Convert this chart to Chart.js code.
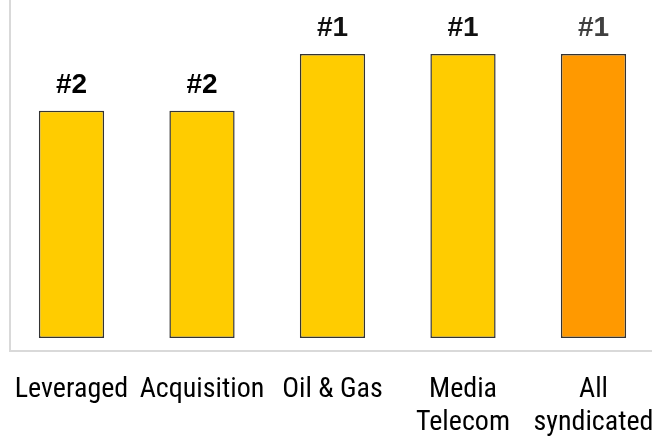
<!DOCTYPE html>
<html>
<head>
<meta charset="utf-8">
<script src="https://cdn.jsdelivr.net/npm/chart.js@4"></script>
<style>
  html, body { margin: 0; padding: 0; background: #fff; }
  #wrap { width: 652px; height: 439px; }
</style>
</head>
<body>
<div id="wrap"><canvas id="barChart"></canvas></div>
<script>
const categories = ['Leveraged', 'Acquisition', 'Oil & Gas', ['Media', 'Telecom'], ['All', 'syndicated']];
const ranks = [2, 2, 1, 1, 1];
const rankLabels = ['#2', '#2', '#1', '#1', '#1'];
const barColors = ['#FFCC00', '#FFCC00', '#FFCC00', '#FFCC00', '#FF9900'];
const labelColors = ['#000000', '#000000', '#111111', '#111111', '#404040'];

// bar height: rank 1 is the tallest bar
const scores = ranks.map((r) => 6 - r);

const FONT = '"Liberation Sans Narrow", "Arial Narrow", "Roboto Condensed", "Liberation Sans", Arial, sans-serif';

const rankLabelPlugin = {
  id: 'rankLabels',
  afterDatasetsDraw(chart) {
    const { ctx } = chart;
    const meta = chart.getDatasetMeta(0);
    ctx.save();
    ctx.font = 'bold 28px "Liberation Sans", Arial, sans-serif';
    ctx.textAlign = 'center';
    ctx.textBaseline = 'alphabetic';
    meta.data.forEach((bar, i) => {
      ctx.fillStyle = labelColors[i];
      ctx.fillText(rankLabels[i], bar.x, bar.y - 18);
    });
    ctx.restore();
  },
};

const data = {
  datasets: [
    {
      data: scores.map((v, i) => ({ x: i, y: v })),
      backgroundColor: barColors,
      borderColor: '#333333',
      borderWidth: 1.5,
      borderSkipped: false,
      barPercentage: 0.5,
      categoryPercentage: 1,
    },
  ],
};

const config = {
  type: 'bar',
  data,
  options: {
    responsive: true,
    maintainAspectRatio: false,
    animation: false,
    layout: { padding: { left: 10, right: 0, top: 0, bottom: 0 } },
    plugins: {
      legend: { display: false },
      tooltip: { enabled: false },
    },
    scales: {
      x: {
        type: 'linear',
        offset: false,
        bounds: 'data',
        min: -0.4713,
        max: 4.4483,
        afterBuildTicks: (scale) => {
          scale.ticks = categories.map((_, i) => ({ value: i }));
        },
        afterFit: (scale) => {
          // labels stay inside the canvas, so no side padding needed
          scale.height = 88;
          scale.paddingLeft = 0;
          scale.paddingRight = 0;
        },
        grid: { display: false, drawTicks: false },
        border: { display: true, color: '#D9D9D9', width: 2 },
        ticks: {
          autoSkip: false,
          maxRotation: 0,
          padding: 22,
          color: '#000000',
          font: { family: FONT, size: 28, lineHeight: 1.2 },
          callback: (value) => categories[value],
        },
      },
      y: {
        min: -0.229,
        max: 5.951,
        grid: { display: false, drawTicks: false },
        border: { display: true, color: '#D9D9D9', width: 2 },
        ticks: { display: false },
      },
    },
  },
  plugins: [rankLabelPlugin],
};

const barChart = new Chart(document.getElementById('barChart'), config);
</script>
</body>
</html>
